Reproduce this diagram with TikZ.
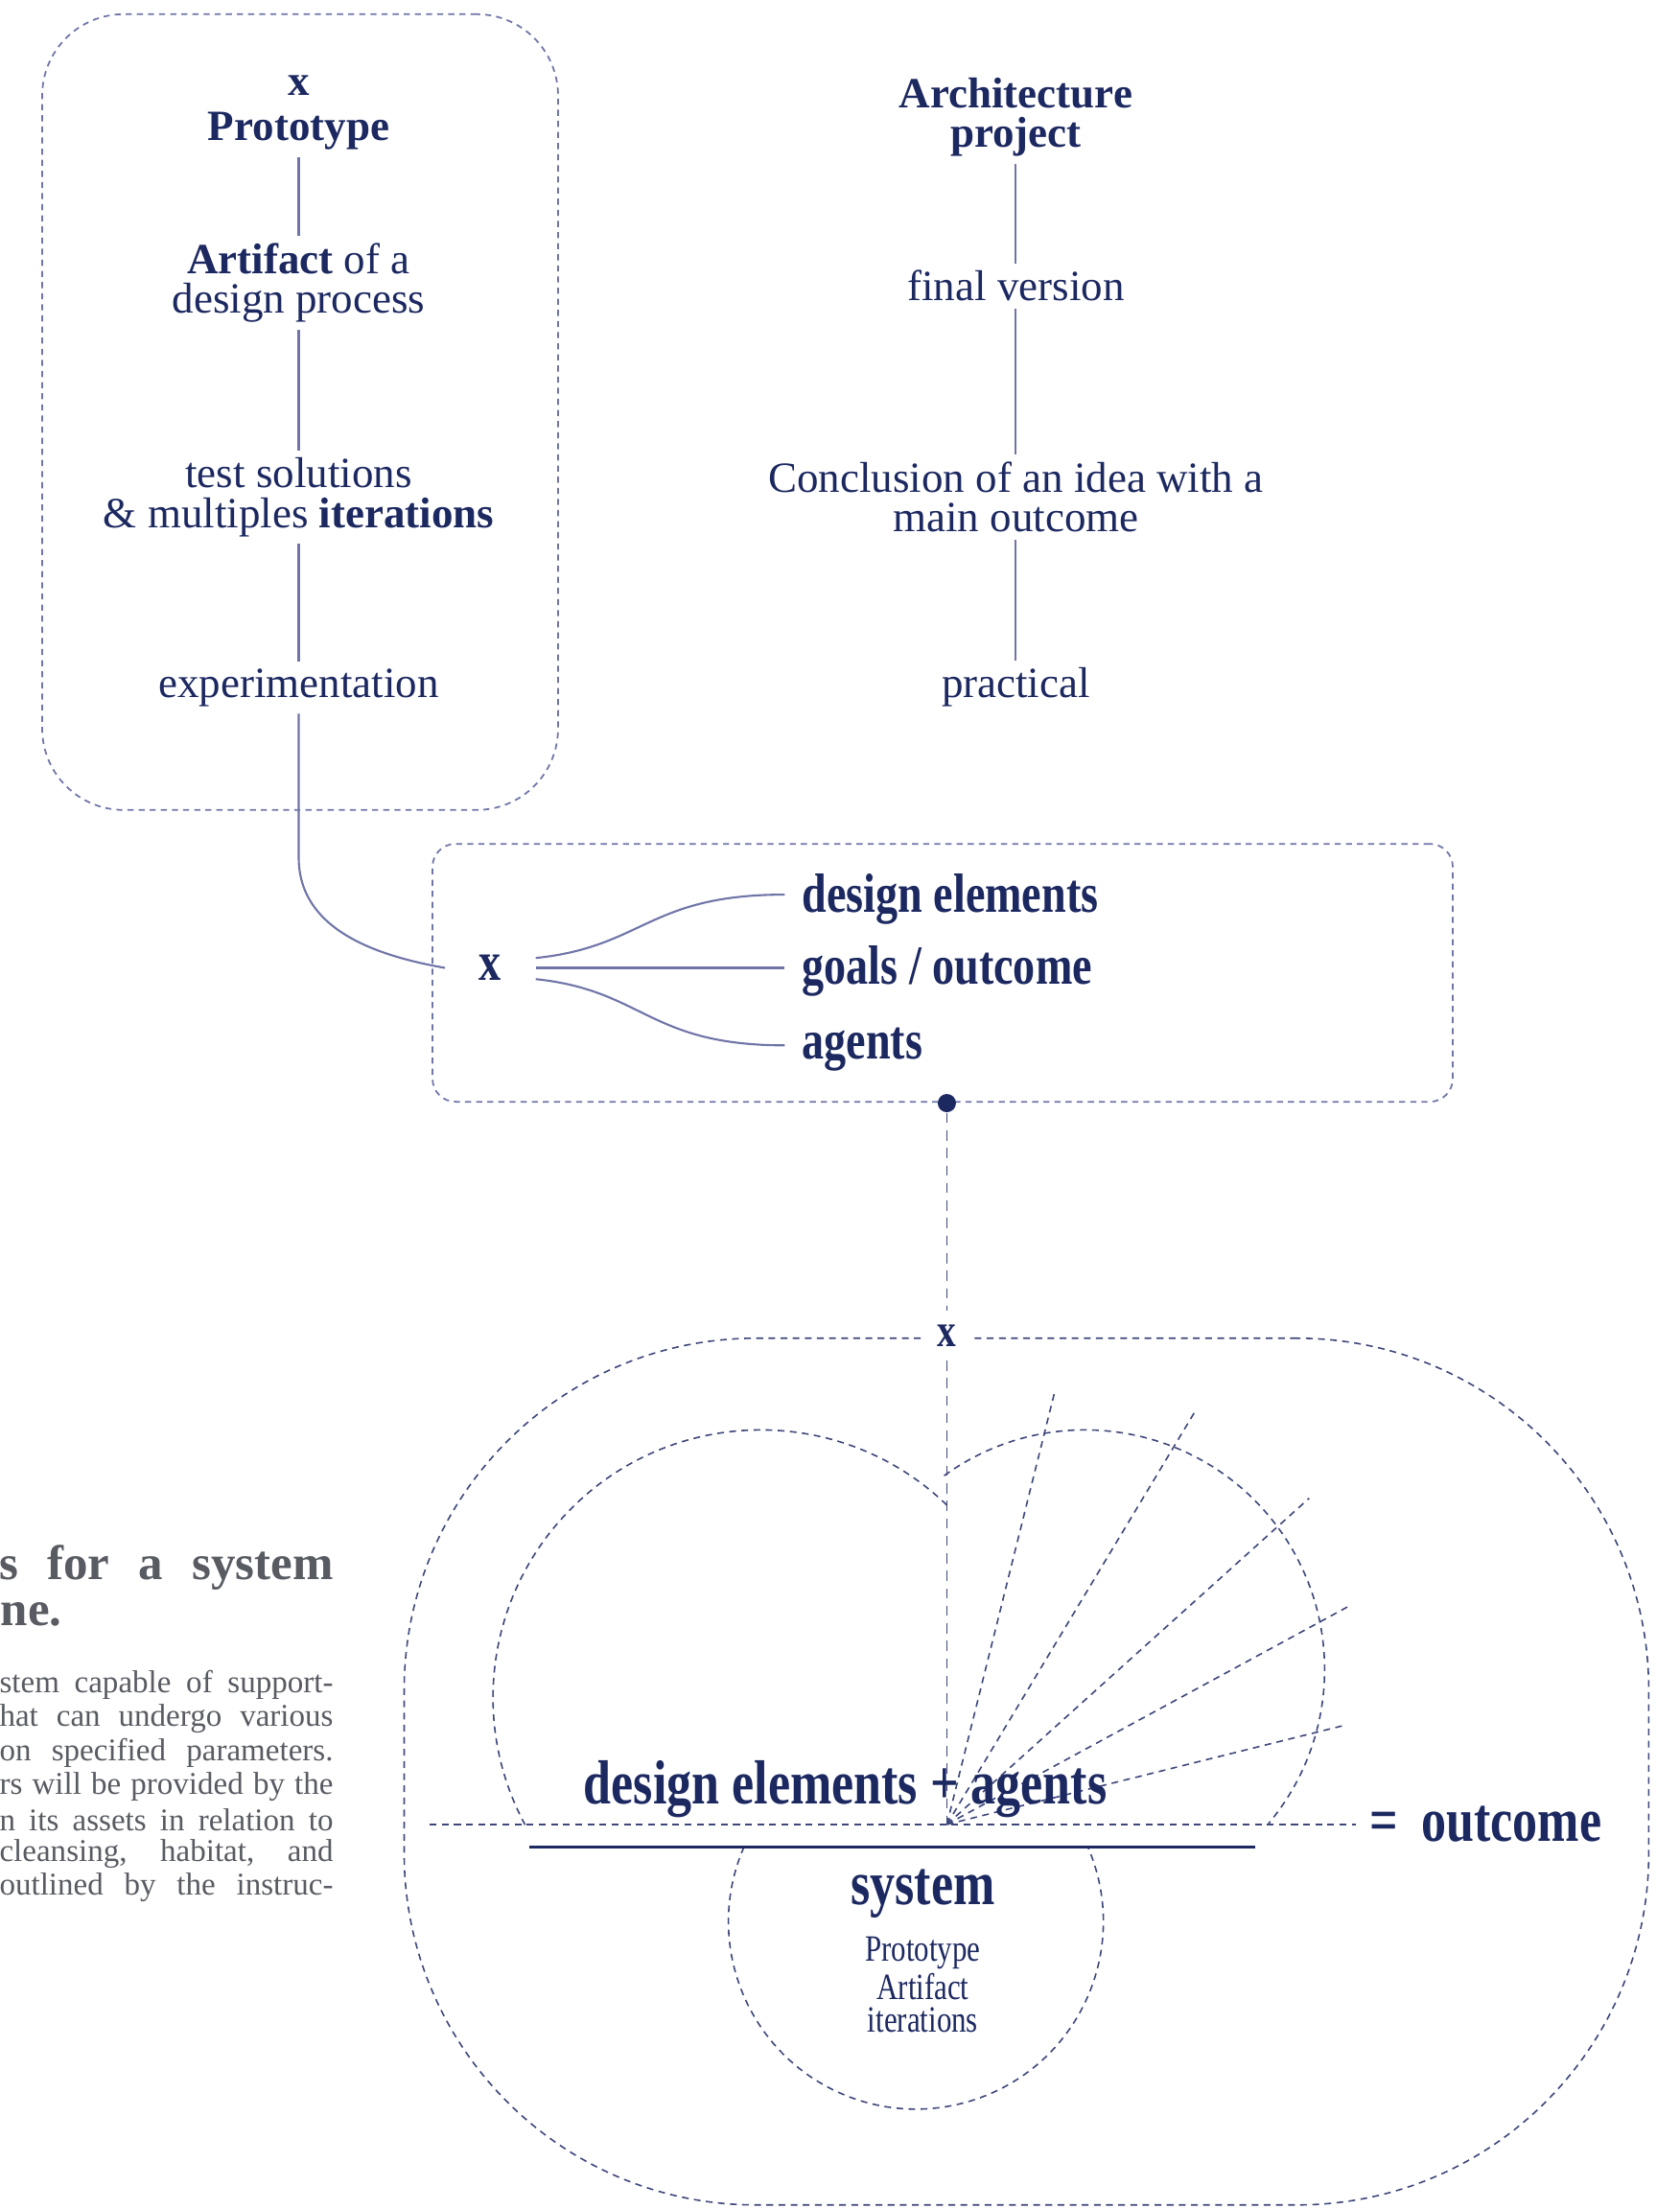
\documentclass[tikz,border=0pt]{standalone}
\usepackage{fontspec}
\setmainfont{Liberation Serif}
\newfontfamily\condfont[FakeStretch=0.8]{Liberation Serif}
\usepackage{tikz}
\usetikzlibrary{positioning,calc}
\usepackage{xcolor}
\definecolor{dgnavy}{RGB}{28,40,96}
\definecolor{dgline}{RGB}{112,117,168}
\definecolor{dgdash}{RGB}{62,70,122}
\definecolor{dggrey}{RGB}{88,91,98}
\tikzstyle{lbl} = [text=dgnavy, align=center, inner sep=2pt, font=\fontsize{12.8}{11.7}\selectfont]
\tikzstyle{blbl} = [lbl, font=\fontsize{12.8}{11.7}\selectfont\bfseries]
\tikzstyle{clbl} = [text=dgnavy, inner sep=1pt, font=\fontsize{16.4}{16}\condfont\bfseries]
\tikzstyle{biglbl} = [text=dgnavy, align=center, inner sep=1pt, font=\fontsize{18.5}{18}\condfont\bfseries]
\tikzstyle{thinline} = [draw=dgline, line width=0.6pt]
\tikzstyle{boxline} = [draw=dgline, line width=0.5pt, dash pattern=on 1.8pt off 1.5pt]
\tikzstyle{dashline} = [draw=dgdash, line width=0.45pt, dash pattern=on 2pt off 1.6pt]
\tikzstyle{vline} = [draw=dgdash, line width=0.5pt, dash pattern=on 3pt off 2.2pt]
\tikzstyle{side} = [text=dggrey, anchor=east, inner sep=0pt, font=\fontsize{9.4}{10}\selectfont]

\begin{document}
\begin{tikzpicture}[x=0.014698cm, y=0.014698cm]
\useasboundingbox (0,0) rectangle (1192,-1568);

% Prototype column
\node[boxline, rounded corners=0.85cm, minimum width=5.38cm, minimum height=8.30cm] (protobox) at (213,-292.5) {};
\node[blbl] (px) at (212,-61) {x};
\node[blbl] (proto) at (212,-93) {Prototype};
\node[lbl] (art) at (212,-201) {\textbf{Artifact} of a\\design process};
\node[lbl] (test) at (212,-353) {test solutions\\\& multiples \textbf{iterations}};
\node[lbl] (exper) at (212,-488) {experimentation};

\draw[thinline] (proto) -- (art);
\draw[thinline] (art) -- (test);
\draw[thinline] (test) -- (exper);

% Architecture column
\node[blbl] (arch) at (721,-83) {Architecture\\project};
\node[lbl] (fin) at (721,-203) {final version};
\node[lbl] (concl) at (721,-353) {Conclusion of an idea with a\\main outcome};
\node[lbl] (prac) at (721,-488) {practical};

\draw[thinline] (arch) -- (fin);
\draw[thinline] (fin) -- (concl);
\draw[thinline] (concl) -- (prac);

% x box
\node[boxline, rounded corners=0.24cm, minimum width=10.64cm, minimum height=2.69cm] (midbox) at (669,-690.5) {};
\node[clbl, inner xsep=10pt] (mx) at (348,-687) {x};
\node[clbl, anchor=west, inner xsep=5pt] (de) at (557,-638) {design elements};
\node[clbl, anchor=west, inner xsep=5pt] (go) at (557,-689) {goals / outcome};
\node[clbl, anchor=west, inner xsep=5pt] (ag) at (557,-745) {agents};

\draw[thinline] (exper.south) -- ++(0,-102) to[out=-90,in=170] (mx.west);
\draw[thinline] ($(mx.east)+(0,7)$) .. controls +(77,8) and +(-97,0) .. ($(de.west)+(0,3)$);
\draw[thinline] (mx.east) -- (mx.east -| go.west);
\draw[thinline] ($(mx.east)+(0,-8)$) .. controls +(77,-8) and +(-97,0) .. ($(ag.west)+(0,3)$);

\node[circle, fill=dgnavy, inner sep=0pt, minimum size=0.19cm] (hub) at (672,-783) {};

% system
\node[dashline, rounded corners=3.67cm, minimum width=12.98cm, minimum height=9.04cm] (sysbox) at (728.5,-1257.5) {};
\node[clbl, fill=white, inner sep=4pt, font=\fontsize{14}{14}\condfont\bfseries] (bx) at (672,-948) {x};
\coordinate (fan) at (672,-1295);
\coordinate (hl) at (305,-1295);
\coordinate (barl) at (376,-1311);
\coordinate (barr) at (891,-1311);

\draw[vline] (hub) -- (bx);
\draw[vline] (bx) -- (fan);

\draw[dashline] ([shift={(46:190)}]540,-1205) arc[start angle=46, end angle=208.6, radius=2.793cm];
\draw[dashline] ([shift={(126:170)}]770,-1185) arc[start angle=126, end angle=-40, radius=2.499cm];
\draw[dashline] ([shift={(156.5:133)}]650,-1364) arc[start angle=156.5, end angle=383.5, radius=1.955cm];

\foreach \a/\l in {76/315, 59/343, 42/346, 28.5/325, 14/290}
  \draw[dashline] (fan) -- ++(\a:\l);

\node[biglbl, anchor=west, inner xsep=4pt] (eq) at (962,-1295) {=\hspace{7pt}outcome};
\draw[dashline] (hl) -- (eq.west);
\draw[draw=dgnavy, line width=1pt] (barl) -- (barr);

\node[biglbl] (dea) at (600,-1270) {design elements + agents};
\node[biglbl] (sys) at (655,-1344) {system};
\node[text=dgnavy, align=center, inner sep=1pt, font=\fontsize{11}{9.9}\condfont] (sysnote) at (655,-1409) {Prototype\\Artifact\\iterations};

% side text
\node[side, font=\fontsize{14.5}{15}\selectfont\bfseries] (hd1) at (237,-1113) {\makebox[3.48cm][s]{s for a system}};
\node[side, anchor=west, font=\fontsize{14.5}{15}\selectfont\bfseries] (hd2) at (0,-1146) {ne.};
\foreach \t [count=\i] in {{stem capable of support-}, {hat can undergo various}, {on specified parameters.}, {rs will be provided by the}, {n its assets in relation to}, {cleansing, habitat, and}, {outlined by the instruc-}}
  \node[side] (par\i) at (237,-1172-24*\i) {\makebox[3.48cm][s]{\t}};
\end{tikzpicture}
\end{document}
